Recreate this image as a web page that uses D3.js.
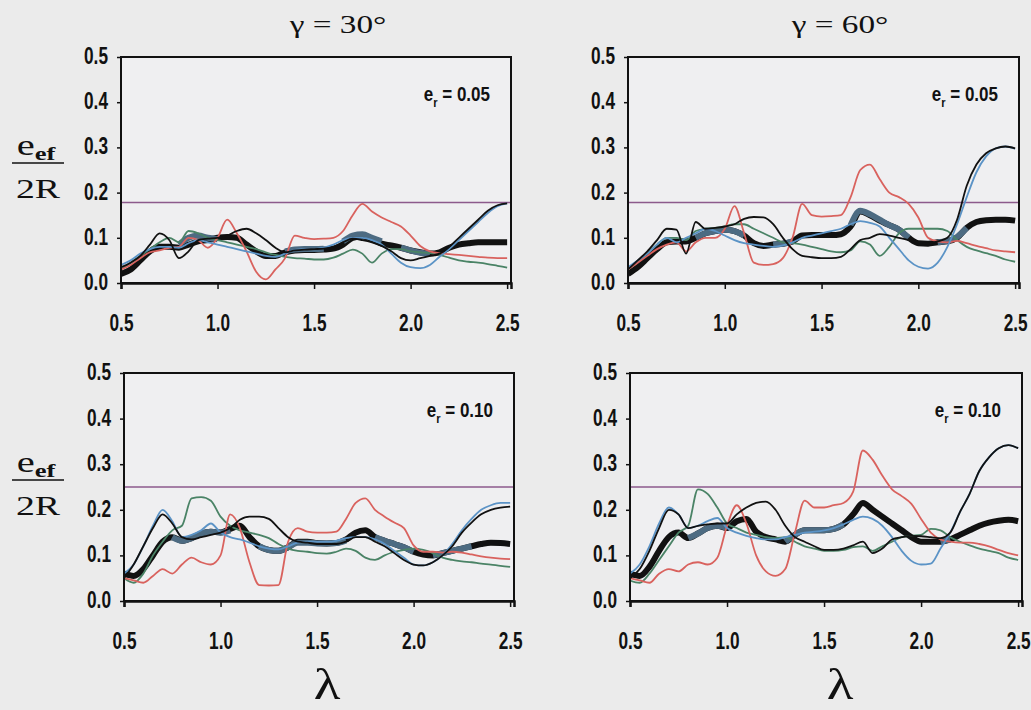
<!DOCTYPE html>
<html>
<head>
<meta charset="utf-8">
<script src="https://cdn.jsdelivr.net/npm/d3@7"></script>
<style>
  body { margin: 0; background: #ebebeb; }
  .tick text { font-family: "Liberation Sans", Arial, sans-serif; font-weight: bold; font-size: 23px; fill: #111; }
  .serif { font-family: "Liberation Serif", "Times New Roman", "DejaVu Serif", serif; fill: #111; }
  .note { font-family: "Liberation Sans", Arial, sans-serif; font-weight: bold; font-size: 20px; fill: #111; }
</style>
</head>
<body>
<script>
// lambda grid (x values)
const lambda = [0.50,0.55,0.60,0.65,0.70,0.75,0.80,0.85,0.90,0.95,1.00,1.05,1.10,1.15,1.20,1.25,1.30,1.35,1.40,1.45,1.50,
                1.55,1.60,1.65,1.70,1.75,1.80,1.85,1.90,1.95,2.00,2.05,2.10,2.15,2.20,2.25,2.30,2.35,2.40,2.45,2.50];

// gamma = 30, e_r = 0.05
const g30e05_black = [0.035,0.045,0.06,0.085,0.11,0.095,0.055,0.07,0.095,0.098,0.1,0.105,0.115,0.12,0.11,0.095,0.078,0.068,0.072,0.074,0.075,
                      0.076,0.08,0.09,0.098,0.095,0.09,0.082,0.07,0.055,0.05,0.055,0.06,0.065,0.08,0.1,0.12,0.14,0.16,0.172,0.176];
const g30e05_red   = [0.03,0.04,0.055,0.068,0.072,0.078,0.08,0.1,0.095,0.078,0.1,0.14,0.11,0.07,0.025,0.008,0.03,0.055,0.105,0.1,0.097,
                      0.098,0.1,0.115,0.15,0.175,0.158,0.145,0.135,0.125,0.105,0.082,0.07,0.066,0.064,0.062,0.06,0.058,0.056,0.055,0.055];
const g30e05_blue  = [0.04,0.05,0.065,0.075,0.08,0.08,0.078,0.088,0.095,0.09,0.085,0.08,0.075,0.07,0.065,0.06,0.058,0.065,0.073,0.075,0.075,
                      0.078,0.085,0.095,0.1,0.1,0.095,0.085,0.065,0.045,0.035,0.033,0.04,0.058,0.075,0.095,0.115,0.135,0.155,0.17,0.176];
const g30e05_green = [0.03,0.045,0.06,0.075,0.09,0.1,0.09,0.115,0.11,0.1,0.095,0.09,0.085,0.08,0.075,0.068,0.062,0.058,0.055,0.054,0.052,
                      0.052,0.056,0.065,0.074,0.065,0.045,0.065,0.075,0.075,0.07,0.068,0.066,0.062,0.056,0.05,0.047,0.045,0.042,0.038,0.034];
const g30e05_thick = [0.02,0.03,0.05,0.07,0.08,0.08,0.078,0.085,0.092,0.095,0.1,0.102,0.1,0.085,0.07,0.06,0.06,0.068,0.072,0.073,0.073,
                      0.074,0.076,0.085,0.1,0.103,0.097,0.087,0.083,0.078,0.072,0.068,0.065,0.068,0.078,0.085,0.088,0.09,0.09,0.09,0.09];
const g30e05_slate = [null,null,null,null,null,null,0.085,0.1,0.105,0.1,0.097,null,null,null,null,null,null,0.07,0.074,0.075,0.075,
                      0.076,null,0.092,0.105,0.108,0.1,0.092,null,0.078,0.072,0.067,0.065,null,null,null,null,null,null,null,null];

// gamma = 60, e_r = 0.05
const g60e05_black = [0.03,0.05,0.07,0.095,0.12,0.118,0.065,0.135,0.12,0.122,0.125,0.13,0.142,0.146,0.145,0.13,0.1,0.075,0.06,0.057,0.055,
                      0.055,0.058,0.075,0.095,0.1,0.108,0.105,0.1,0.095,0.09,0.088,0.092,0.1,0.14,0.215,0.262,0.287,0.298,0.302,0.298];
const g60e05_red   = [0.03,0.045,0.06,0.075,0.085,0.09,0.07,0.09,0.1,0.1,0.12,0.17,0.11,0.045,0.04,0.042,0.055,0.1,0.175,0.15,0.147,
                      0.148,0.15,0.19,0.25,0.262,0.23,0.2,0.19,0.175,0.145,0.1,0.092,0.09,0.093,0.088,0.082,0.077,0.072,0.07,0.068];
const g60e05_blue  = [0.035,0.05,0.065,0.085,0.1,0.09,0.1,0.11,0.12,0.115,0.105,0.095,0.088,0.085,0.082,0.08,0.083,0.09,0.1,0.105,0.11,
                      0.115,0.12,0.13,0.137,0.133,0.125,0.1,0.075,0.05,0.036,0.032,0.045,0.08,0.13,0.19,0.245,0.28,0.298,0.302,0.297];
const g60e05_green = [0.03,0.045,0.065,0.085,0.1,0.1,0.095,0.115,0.12,0.122,0.125,0.13,0.13,0.12,0.11,0.1,0.09,0.088,0.085,0.08,0.075,
                      0.07,0.068,0.072,0.092,0.085,0.06,0.08,0.11,0.12,0.12,0.12,0.12,0.115,0.095,0.08,0.072,0.066,0.06,0.052,0.047];
const g60e05_thick = [0.02,0.035,0.055,0.075,0.09,0.092,0.092,0.1,0.11,0.115,0.118,0.115,0.105,0.088,0.082,0.085,0.087,0.092,0.105,0.106,0.106,
                      0.106,0.108,0.125,0.158,0.15,0.138,0.128,0.118,0.1,0.088,0.087,0.09,0.092,0.1,0.122,0.135,0.139,0.14,0.14,0.138];
const g60e05_slate = [null,null,null,null,null,null,null,0.1,0.11,0.115,0.118,0.115,0.105,null,null,0.085,0.087,0.092,null,null,null,
                      null,null,0.128,0.16,0.152,0.14,0.128,0.118,0.1,null,null,0.09,0.093,0.102,0.122,null,null,null,null,null];

// gamma = 30, e_r = 0.10
const g30e10_black = [0.05,0.08,0.12,0.16,0.19,0.17,0.14,0.135,0.14,0.145,0.15,0.16,0.178,0.185,0.185,0.18,0.16,0.14,0.13,0.128,0.125,
                      0.125,0.125,0.13,0.14,0.14,0.13,0.12,0.105,0.09,0.08,0.078,0.085,0.1,0.12,0.15,0.172,0.19,0.2,0.205,0.207];
const g30e10_red   = [0.05,0.045,0.04,0.055,0.07,0.06,0.08,0.095,0.085,0.08,0.1,0.19,0.16,0.085,0.035,0.034,0.035,0.13,0.16,0.152,0.15,
                      0.15,0.152,0.18,0.215,0.225,0.2,0.185,0.172,0.16,0.122,0.108,0.108,0.106,0.108,0.106,0.102,0.098,0.095,0.093,0.092];
const g30e10_blue  = [0.06,0.08,0.12,0.165,0.2,0.175,0.14,0.145,0.155,0.17,0.15,0.14,0.135,0.128,0.12,0.115,0.113,0.12,0.128,0.13,0.13,
                      0.13,0.132,0.138,0.14,0.14,0.135,0.125,0.11,0.095,0.08,0.078,0.085,0.1,0.125,0.155,0.18,0.2,0.21,0.215,0.215];
const g30e10_green = [0.05,0.04,0.06,0.1,0.13,0.155,0.165,0.225,0.228,0.22,0.185,0.165,0.155,0.15,0.145,0.138,0.125,0.115,0.11,0.108,0.105,
                      0.104,0.108,0.115,0.11,0.095,0.09,0.1,0.108,0.112,0.115,0.112,0.105,0.095,0.09,0.087,0.085,0.082,0.08,0.077,0.075];
const g30e10_thick = [0.06,0.055,0.07,0.1,0.13,0.14,0.132,0.138,0.148,0.152,0.15,0.158,0.165,0.14,0.12,0.112,0.11,0.118,0.13,0.13,0.127,
                      0.126,0.127,0.135,0.15,0.155,0.14,0.132,0.125,0.118,0.108,0.102,0.1,0.105,0.11,0.115,0.12,0.125,0.128,0.127,0.125];
const g30e10_slate = [null,null,null,null,null,0.14,0.132,0.138,0.148,0.152,0.15,0.155,null,null,0.12,0.112,0.11,0.118,0.128,0.128,0.126,
                      0.126,0.127,0.133,null,null,0.14,0.132,0.125,0.118,0.108,null,0.1,0.105,0.11,0.115,0.12,null,null,null,null];

// gamma = 60, e_r = 0.10
const g60e10_black = [0.05,0.07,0.11,0.16,0.2,0.19,0.16,0.165,0.168,0.17,0.17,0.19,0.205,0.215,0.218,0.2,0.165,0.14,0.13,0.12,0.112,
                      0.112,0.115,0.122,0.13,0.105,0.115,0.135,0.14,0.143,0.142,0.14,0.138,0.15,0.195,0.235,0.285,0.315,0.335,0.342,0.335];
const g60e10_red   = [0.05,0.045,0.04,0.06,0.07,0.065,0.08,0.085,0.08,0.095,0.165,0.21,0.17,0.1,0.065,0.055,0.07,0.15,0.22,0.205,0.205,
                      0.21,0.215,0.24,0.33,0.31,0.275,0.245,0.23,0.213,0.18,0.15,0.135,0.13,0.128,0.128,0.125,0.12,0.112,0.105,0.1];
const g60e10_blue  = [0.06,0.08,0.12,0.17,0.205,0.19,0.16,0.165,0.175,0.182,0.16,0.15,0.143,0.138,0.135,0.135,0.14,0.145,0.15,0.152,0.155,
                      0.16,0.168,0.178,0.185,0.18,0.165,0.14,0.11,0.088,0.08,0.082,0.115,0.15,0.195,0.235,0.285,0.315,0.335,0.342,0.335];
const g60e10_green = [0.045,0.04,0.06,0.09,0.12,0.15,0.165,0.245,0.235,0.205,0.17,0.16,0.15,0.145,0.14,0.138,0.14,0.13,0.12,0.115,0.11,
                      0.11,0.112,0.118,0.12,0.11,0.12,0.13,0.14,0.143,0.145,0.158,0.155,0.14,0.13,0.122,0.115,0.11,0.105,0.095,0.09];
const g60e10_thick = [0.06,0.055,0.075,0.11,0.14,0.15,0.138,0.148,0.16,0.165,0.16,0.175,0.18,0.152,0.14,0.135,0.13,0.145,0.155,0.155,0.155,
                      0.158,0.168,0.19,0.215,0.2,0.185,0.17,0.155,0.14,0.13,0.13,0.13,0.135,0.145,0.155,0.165,0.172,0.176,0.178,0.175];
const g60e10_slate = [null,null,null,null,null,null,0.138,0.148,0.16,0.165,0.16,null,null,null,null,null,0.13,0.145,0.155,0.155,0.155,
                      0.158,0.168,null,null,null,null,null,null,null,null,null,0.13,0.135,null,null,null,null,null,null,null];

const limits = [0.178, 0.25];          // horizontal reference line per row
const titles = ["\u03b3 = 30\u00b0", "\u03b3 = 60\u00b0"];
const erLabels = ["0.05", "0.10"];
const yTicks = [0, 0.1, 0.2, 0.3, 0.4, 0.5];
const xTicks = [0.5, 1.0, 1.5, 2.0, 2.5];

const col = { red: "#d9625e", blue: "#5b93c6", green: "#4a8366", black: "#111", slate: "#4d6b82", limit: "#8c5a8c" };
const narrow = 0.75;   // tick labels are a condensed face

const W = 1031, H = 710;
const svg = d3.select("body").append("svg").attr("width", W).attr("height", H);
svg.append("rect").attr("width", W).attr("height", H).attr("fill", "#ebebeb");

const panels = [
  { x0: 121, w: 390, top: 57,  bottom: 283, row: 0, k: g30e05_black, r: g30e05_red, b: g30e05_blue, g: g30e05_green, t: g30e05_thick, s: g30e05_slate },
  { x0: 628, w: 391, top: 57,  bottom: 283, row: 0, k: g60e05_black, r: g60e05_red, b: g60e05_blue, g: g60e05_green, t: g60e05_thick, s: g60e05_slate },
  { x0: 124, w: 390, top: 373, bottom: 601, row: 1, k: g30e10_black, r: g30e10_red, b: g30e10_blue, g: g30e10_green, t: g30e10_thick, s: g30e10_slate },
  { x0: 630, w: 392, top: 373, bottom: 601, row: 1, k: g60e10_black, r: g60e10_red, b: g60e10_blue, g: g60e10_green, t: g60e10_thick, s: g60e10_slate }
];

panels.forEach((p, i) => {
  const x = d3.scaleLinear().domain([0.5, 2.52]).range([p.x0, p.x0 + p.w]);
  const y = d3.scaleLinear().domain([0, 0.5]).range([p.bottom, p.top]);
  const g = svg.append("g");

  g.append("clipPath").attr("id", "clip" + i)
    .append("rect").attr("x", p.x0).attr("y", p.top).attr("width", p.w).attr("height", p.bottom - p.top);

  g.append("rect").attr("x", p.x0).attr("y", p.top).attr("width", p.w).attr("height", p.bottom - p.top)
    .attr("fill", "#efeff1");

  const plot = g.append("g").attr("clip-path", "url(#clip" + i + ")");

  plot.append("line")
    .attr("x1", p.x0).attr("x2", p.x0 + p.w)
    .attr("y1", y(limits[p.row])).attr("y2", y(limits[p.row]))
    .attr("stroke", col.limit).attr("stroke-width", 1.6);

  const line = d3.line()
    .defined(d => d[1] != null)
    .x(d => x(d[0])).y(d => y(d[1]))
    .curve(d3.curveMonotoneX);
  const pts = arr => lambda.map((l, j) => [l, arr[j]]);

  plot.append("path").attr("d", line(pts(p.t))).attr("fill", "none").attr("stroke", col.black).attr("stroke-width", 6);
  plot.append("path").attr("d", line(pts(p.s))).attr("fill", "none").attr("stroke", col.slate).attr("stroke-width", 6);
  [[p.g, col.green], [p.r, col.red], [p.b, col.blue], [p.k, col.black]].forEach(([arr, c]) => {
    plot.append("path").attr("d", line(pts(arr))).attr("fill", "none").attr("stroke", c).attr("stroke-width", 1.8);
  });

  // frame
  g.append("rect").attr("x", p.x0).attr("y", p.top).attr("width", p.w).attr("height", p.bottom - p.top)
    .attr("fill", "none").attr("stroke", "#111").attr("stroke-width", 2);

  g.append("g").attr("transform", "translate(0," + p.bottom + ")")
    .call(d3.axisBottom(x).tickValues(xTicks).tickFormat(d3.format(".1f")).tickSize(6).tickPadding(26))
    .call(a => a.select(".domain").attr("stroke", "#111").attr("stroke-width", 2.5))
    .call(a => a.selectAll(".tick text").attr("transform", "scale(" + narrow + ",1)"));

  g.append("g").attr("transform", "translate(" + p.x0 + ",0)")
    .call(d3.axisLeft(y).tickValues(yTicks).tickFormat(d3.format(".1f")).tickSize(4).tickPadding(9))
    .call(a => a.select(".domain").remove())
    .call(a => a.selectAll(".tick text").attr("x", -13 / narrow).attr("dy", "0.28em")
      .attr("transform", "scale(" + narrow + ",1)"));

  g.selectAll(".tick line").attr("stroke", "#111").attr("stroke-width", 1.5);

  // e_r annotation
  const t = g.append("text").attr("class", "note")
    .attr("transform", "translate(" + (p.x0 + p.w - 21) + "," + (p.top + 44) + ") scale(0.85,1)")
    .attr("text-anchor", "end");
  t.append("tspan").text("e");
  t.append("tspan").attr("font-size", "13px").attr("dy", 6).text("r");
  t.append("tspan").attr("dy", -6).text(" = " + erLabels[p.row]);
});

// serif text is horizontally stretched in the original figure
function wideText(cx, by, size, sx) {
  return svg.append("text").attr("class", "serif")
    .attr("transform", "translate(" + cx + "," + by + ") scale(" + sx + ",1)")
    .attr("text-anchor", "middle").attr("font-size", size + "px");
}

// column titles
wideText(338, 33, 25, 1.33).text(titles[0]);
wideText(840, 33, 25, 1.33).text(titles[1]);

// y labels e_ef / 2R
[[155, 163, 198], [472, 480, 515]].forEach(([yNum, yBar, yDen]) => {
  const num = wideText(36, yNum, 29, 1.4);
  num.append("tspan").text("e");
  num.append("tspan").attr("font-size", "19px").attr("font-weight", "bold").attr("dy", 5).text("ef");
  svg.append("line").attr("x1", 12).attr("x2", 64).attr("y1", yBar).attr("y2", yBar)
    .attr("stroke", "#111").attr("stroke-width", 1.5);
  wideText(38, yDen, 27, 1.4).text("2R");
});

// x labels
wideText(327, 699, 44, 1.25).text("\u03bb");
wideText(840, 699, 44, 1.25).text("\u03bb");
</script>
</body>
</html>
